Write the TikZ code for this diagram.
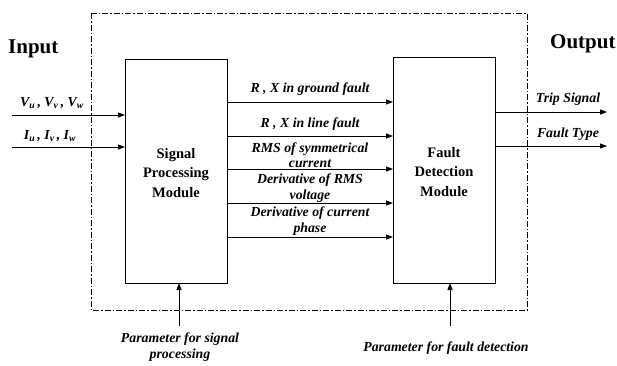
\documentclass[tikz,border=0pt]{standalone}
\usepackage{fontspec}
\setmainfont{Liberation Serif}
\usetikzlibrary{arrows.meta}
\begin{document}
\begin{tikzpicture}[x=1pt,y=-1pt,
  modbox/.style={draw,line width=1pt,inner sep=0pt},
  arr/.style={line width=0.9pt,-{Triangle[length=7pt,width=5pt]}},
  lbl/.style={font=\fontsize{13.8}{15.5}\selectfont\bfseries\itshape,inner sep=0pt,align=center},
  mtext/.style={font=\fontsize{14.5}{19.5}\selectfont\bfseries,align=center},
  big/.style={font=\fontsize{21}{23}\selectfont\bfseries,inner sep=0pt}]
\useasboundingbox (0,0) rectangle (617,365);
% dashed frame
\draw[line width=0.8pt,dash pattern=on 6pt off 2pt on 1.5pt off 2pt] (91,13) rectangle (527,310);
% modules
\draw[modbox] (125,59) rectangle (227,283);
\node[mtext] (sp) at (176,173) {Signal\\Processing\\Module};
\draw[modbox] (393,57) rectangle (495,283);
\node[mtext] (fd) at (444,172) {Fault\\Detection\\Module};
% input/output labels
\node[big,anchor=west] (in) at (8,49) {Input};
\node[big,anchor=west] (out) at (550,44) {Output};
% inputs
\coordinate (v0) at (12,115); \coordinate (v1) at (125,115);
\coordinate (i0) at (12,147); \coordinate (i1) at (125,147);
\draw[arr] (v0) -- (v1);
\draw[arr] (i0) -- (i1);
\node[lbl] (vl) at (52,103) {V\textsubscript{u}\,, V\textsubscript{v}\,, V\textsubscript{w}};
\node[lbl] (il) at (50,136) {I\textsubscript{u}\,, I\textsubscript{v}\,, I\textsubscript{w}};
% middle arrows
\foreach \y/\n in {102/a,136/b,169/c,203/d,237/e}{
  \coordinate (m\n0) at (227,\y); \coordinate (m\n1) at (393,\y);
  \draw[arr] (m\n0) -- (m\n1);
}
\node[lbl] (la) at (310,89) {R , X in ground fault};
\node[lbl] (lb) at (310,124) {R , X in line fault};
\node[lbl] (lc) at (310,155) {RMS of symmetrical\\current};
\node[lbl] (ld) at (310,188) {Derivative of RMS\\voltage};
\node[lbl] (le) at (310,221) {Derivative of current\\phase};
% outputs
\coordinate (t0) at (495,112); \coordinate (t1) at (607,112);
\coordinate (f0) at (495,146); \coordinate (f1) at (607,146);
\draw[arr] (t0) -- (t1);
\draw[arr] (f0) -- (f1);
\node[lbl] (tl) at (568,99) {Trip Signal};
\node[lbl] (fl) at (568,134) {Fault Type};
% parameters
\coordinate (p0) at (179,326); \coordinate (p1) at (179,283);
\coordinate (q0) at (450,326); \coordinate (q1) at (450,283);
\draw[arr] (p0) -- (p1);
\draw[arr] (q0) -- (q1);
\node[lbl] (pl) at (180,347) {Parameter for signal\\processing};
\node[lbl] (ql) at (446,348) {Parameter for fault detection};
\end{tikzpicture}
\end{document}
